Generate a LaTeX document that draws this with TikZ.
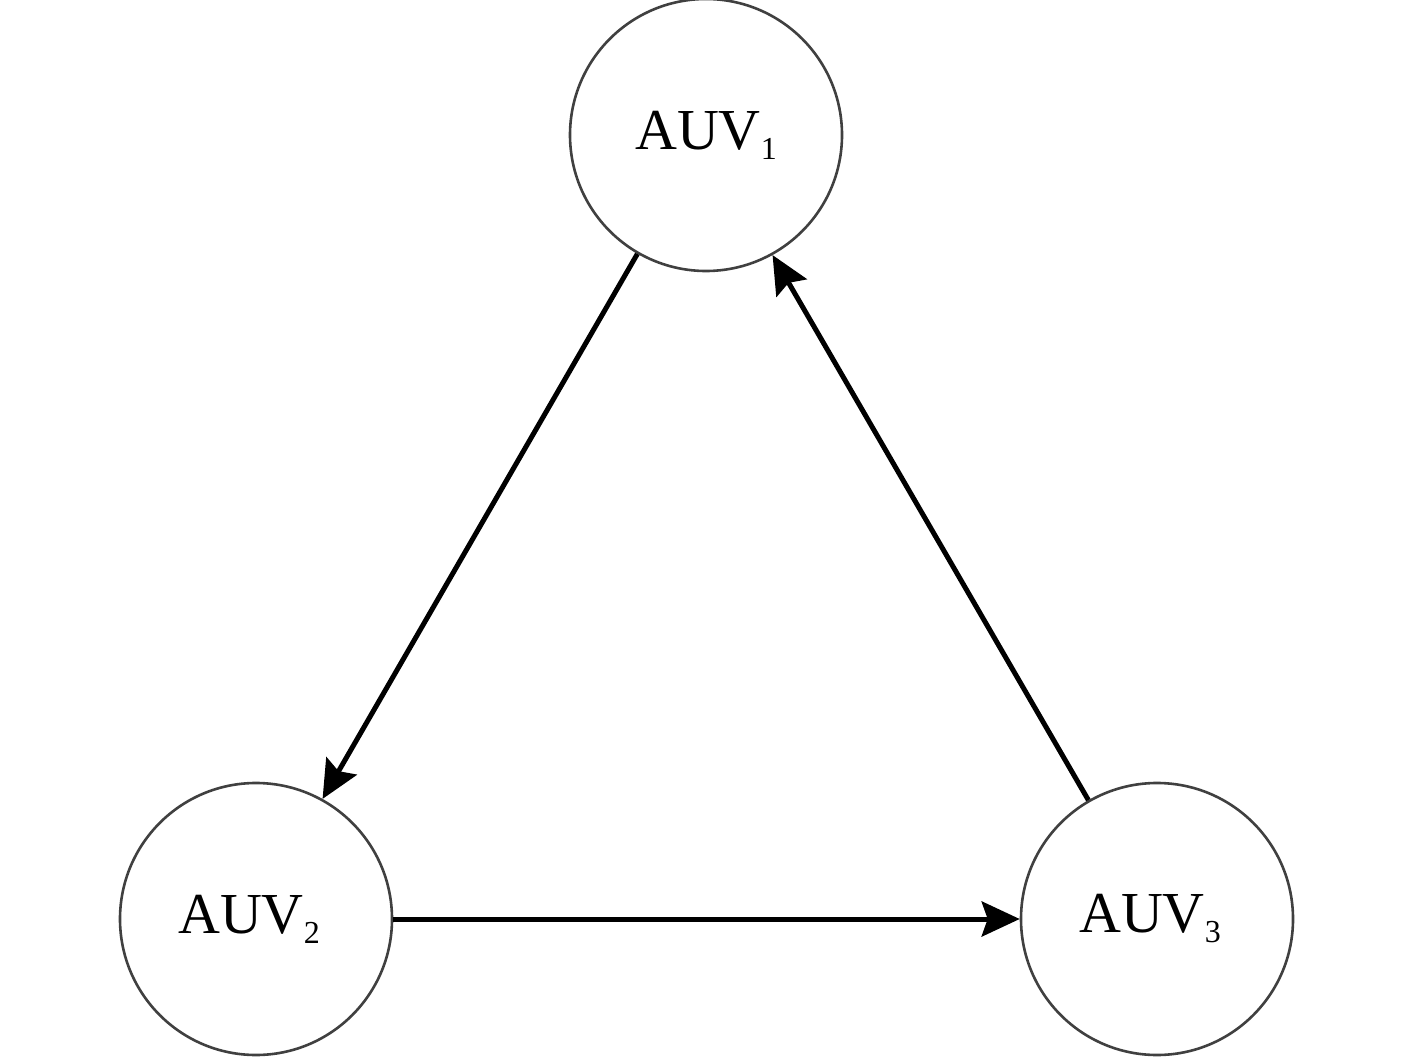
\documentclass[tikz,border=0pt]{standalone}
\usepackage{fontspec}
\setmainfont{Liberation Serif}
\usetikzlibrary{arrows.meta}
\newcommand{\auvlabel}[1]{\fontsize{29}{29}\selectfont AUV\raisebox{-5pt}{\fontsize{16}{16}\selectfont #1}}
\begin{document}
\begin{tikzpicture}[x=0.5pt,y=-0.5pt,
  auv/.style={circle,draw=black!75,line width=1.3pt,minimum size=136pt,inner sep=0pt},
  link/.style={line width=2.5pt,-{Stealth[length=19pt,width=17.5pt,inset=3pt]}}]
\useasboundingbox (0,0) rectangle (1417,1058);
\node[auv] (a1) at (706,135) {\auvlabel{1}};
\node[auv] (a2) at (256,919) {\auvlabel{2}\hspace*{7pt}};
\node[auv] (a3) at (1157,919) {\auvlabel{3}\hspace*{7pt}};
\draw[link] (a1.240.5) -- (a2.61.6);
\draw[link] (a2.east) -- (a3.west);
\draw[link] (a3.120.1) -- (a1.299.4);
\end{tikzpicture}
\end{document}
